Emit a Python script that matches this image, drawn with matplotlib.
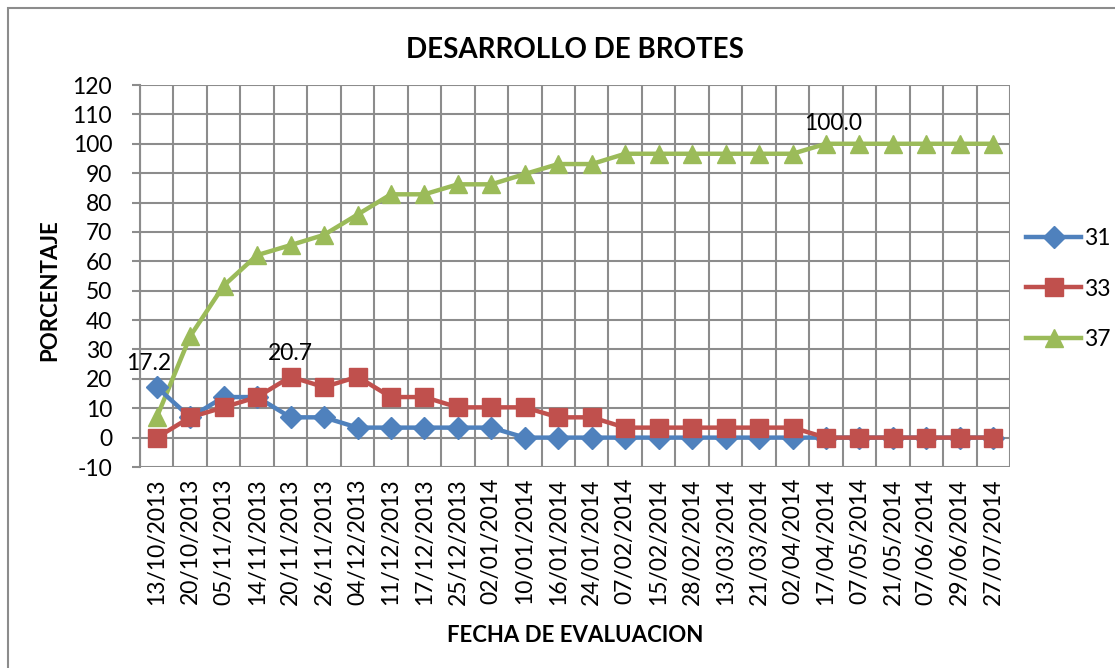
import numpy as np
import matplotlib
matplotlib.use("Agg")
import matplotlib.pyplot as plt
from matplotlib.ticker import MultipleLocator, FixedLocator

plt.rcParams['font.family'] = ['Lato', 'DejaVu Sans']
plt.rcParams['axes.unicode_minus'] = False

fechas = ['13/10/2013', '20/10/2013', '05/11/2013', '14/11/2013', '20/11/2013',
          '26/11/2013', '04/12/2013', '11/12/2013', '17/12/2013', '25/12/2013',
          '02/01/2014', '10/01/2014', '16/01/2014', '24/01/2014', '07/02/2014',
          '15/02/2014', '28/02/2014', '13/03/2014', '21/03/2014', '02/04/2014',
          '17/04/2014', '07/05/2014', '21/05/2014', '07/06/2014', '29/06/2014',
          '27/07/2014']

s31 = [17.2, 6.9, 13.8, 13.8, 6.9, 6.9, 3.4, 3.4, 3.4, 3.4, 3.4, 0, 0, 0, 0,
       0, 0, 0, 0, 0, 0, 0, 0, 0, 0, 0]
s33 = [0, 6.9, 10.3, 13.8, 20.7, 17.2, 20.7, 13.8, 13.8, 10.3, 10.3, 10.3, 6.9,
       6.9, 3.4, 3.4, 3.4, 3.4, 3.4, 3.4, 0, 0, 0, 0, 0, 0]
s37 = [6.9, 34.5, 51.7, 62.1, 65.5, 69.0, 75.9, 82.8, 82.8, 86.2, 86.2, 89.7,
       93.1, 93.1, 96.6, 96.6, 96.6, 96.6, 96.6, 96.6, 100, 100, 100, 100, 100,
       100]

x = np.arange(len(fechas))

fig = plt.figure(figsize=(11.15, 6.68), dpi=100)
ax = fig.add_axes([140/1115, 1-467/668, 870/1115, 382/668])

grid_c = '#8c8c8c'
ax.plot(x, s31, color='#4F81BD', lw=3.2, marker='D', ms=11, label='31', zorder=3)
ax.plot(x, s33, color='#C0504D', lw=3.2, marker='s', ms=13, label='33', zorder=4)
ax.plot(x, s37, color='#9BBB59', lw=3.2, marker='^', ms=13, label='37', zorder=2)

ax.set_xlim(-0.5, len(fechas) - 0.5)
ax.set_ylim(-10, 120)
ax.yaxis.set_major_locator(MultipleLocator(10))
ax.set_xticks(x)
ax.set_xticklabels(fechas, rotation=90, fontsize=16.5)
ax.xaxis.set_minor_locator(FixedLocator(np.arange(-0.5, len(fechas), 1)))
ax.tick_params(axis='x', which='major', length=0, pad=8)
ax.tick_params(axis='x', which='minor', length=0)
ax.tick_params(axis='y', labelsize=16.5, length=6, color=grid_c, width=1.5, pad=14)
ax.grid(True, axis='y', which='major', color=grid_c, lw=1.5)
ax.grid(True, axis='x', which='minor', color=grid_c, lw=1.5)
ax.set_axisbelow(True)
for s in ['top', 'right', 'bottom']:
    ax.spines[s].set_visible(False)
ax.spines['left'].set_color(grid_c)
ax.spines['left'].set_linewidth(1.5)

ax.annotate('17.2', (0, s31[0]), xytext=(-6, 12), textcoords='offset points',
            fontsize=16.5, ha='center')
ax.annotate('20.7', (4, s33[4]), xytext=(0, 12), textcoords='offset points',
            fontsize=16.5, ha='center')
ax.annotate('100.0', (20, s37[20]), xytext=(5, 10), textcoords='offset points',
            fontsize=16.5, ha='center')

fig.text(575/1115, 1-50/668, 'DESARROLLO DE BROTES', fontsize=20,
         fontweight='bold', ha='center', va='center')
fig.text(575/1115, 1-636/668, 'FECHA DE EVALUACION', fontsize=16,
         fontweight='bold', ha='center', va='center')
fig.text(50/1115, 1-290/668, 'PORCENTAJE', fontsize=16, fontweight='bold',
         ha='center', va='center', rotation=90)

ax.legend(loc='center left', bbox_to_anchor=(1026/1115, 1-289/668),
          bbox_transform=fig.transFigure, frameon=False, fontsize=16.5,
          handlelength=2.4, labelspacing=1.3, handletextpad=0.15,
          borderpad=0, borderaxespad=0)

fig.add_artist(plt.Rectangle((8/1115, -0.1), 1.2, 1-8/668+0.1, fill=False,
                             edgecolor='#8c8c8c', lw=1.5,
                             transform=fig.transFigure))

fig.savefig('out.png', dpi=100)
